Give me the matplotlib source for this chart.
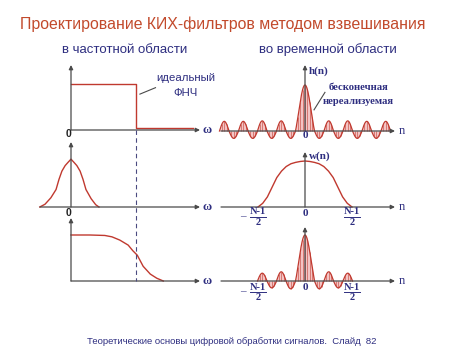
import numpy as np
import matplotlib
matplotlib.use("Agg")
import matplotlib.pyplot as plt

# ---------------- data ----------------
# frequency domain (omega in units of the cutoff frequency)
ideal_edges = [0.0, 1.0, 1.87]
ideal_levels = [1.0, 0.04]

win_spec_w = [-0.48, -0.40, -0.31, -0.23, -0.185, -0.14, -0.09, -0.046, 0.0,
              0.046, 0.09, 0.14, 0.185, 0.23, 0.31, 0.38, 0.43]
win_spec_v = [0.0, 0.06, 0.2, 0.38, 0.6, 0.78, 0.9, 0.97, 1.04,
              0.97, 0.9, 0.78, 0.6, 0.38, 0.18, 0.05, 0.0]

real_w = [0.0, 0.29, 0.52, 0.63, 0.75, 0.88, 0.95, 1.02, 1.11, 1.22, 1.32, 1.42]
real_v = [1.0, 1.0, 0.99, 0.96, 0.89, 0.78, 0.66, 0.56, 0.32, 0.15, 0.06, 0.0]

# time domain (n in units of the sinc zero spacing)
h_lobes = [-0.16, 0.22, -0.16, 0.22, -0.16, 0.21, -0.16, 0.21]      # ideal, infinite
hw_lobes = [-0.17, 0.20, -0.15, 0.17]                              # windowed
win_n = [0.0, 0.5, 1.0, 1.5, 2.0, 2.5, 3.0, 3.5, 4.0, 4.5, 5.0]
win_v = [1.0, 0.99, 0.97, 0.94, 0.88, 0.78, 0.64, 0.43, 0.22, 0.08, 0.0]

# ---------------- style ----------------
W, H = 474, 355
RED = "#c0392f"
PINK = "#f4c4c4"
NAVY = "#2e2e80"
AX = "#4a4a4a"
TITLE = "#c24a2c"
SANS = "Liberation Sans"
SERIF = "Liberation Serif"

fig = plt.figure(figsize=(W / 100, H / 100), dpi=100)
fig.patch.set_facecolor("white")


def panel(l, r, t, b, ox, oy, sx, sy):
    ax = fig.add_axes([l / W, 1 - b / H, (r - l) / W, (b - t) / H])
    ax.set_xlim((l - ox) / sx, (r - ox) / sx)
    ax.set_ylim((oy - b) / sy, (oy - t) / sy)
    ax.axis("off")
    ax.patch.set_alpha(0)
    return ax


def arrow(ax, x0, y0, x1, y1):
    ax.annotate("", xy=(x1, y1), xytext=(x0, y0),
                arrowprops=dict(arrowstyle="-|>", color=AX, lw=0.9,
                                mutation_scale=6, shrinkA=0, shrinkB=0))


def ftext(x, y, s, **kw):
    fig.text(x / W, 1 - y / H, s, **kw)


# ---- left column ----
SXL, SYL = 65.0, 46.0
OXL = 71
a1 = panel(30, 215, 55, 145, OXL, 130, SXL, SYL)
a2 = panel(30, 215, 135, 220, OXL, 207, SXL, SYL)
a3 = panel(30, 215, 212, 290, OXL, 281, SXL, SYL)

# panel 1 : ideal LPF
arrow(a1, 0, 0, 0, 65 / SYL)
arrow(a1, 0, 0, 129 / SXL, 0)
a1.plot([ideal_edges[0], ideal_edges[1], ideal_edges[1], ideal_edges[2]],
        [ideal_levels[0], ideal_levels[0], ideal_levels[1], ideal_levels[1]],
        color=RED, lw=1.0)
a1.plot([1.06, 1.30], [0.78, 0.92], color=AX, lw=0.8)

# panel 2 : window spectrum
arrow(a2, 0, 0, 0, 65 / SYL)
arrow(a2, -31 / SXL, 0, 129 / SXL, 0)
a2.plot(win_spec_w, win_spec_v, color=RED, lw=1.0)

# panel 3 : resulting response
arrow(a3, 0, 0, 0, 63 / SYL)
arrow(a3, 0, 0, 129 / SXL, 0)
a3.plot(real_w, real_v, color=RED, lw=1.0)

# overlay in pixel units for the dashed cutoff line and fraction bars
ov = fig.add_axes([0, 0, 1, 1])
ov.axis("off")
ov.set_xlim(0, W)
ov.set_ylim(H, 0)
ov.patch.set_alpha(0)
xc = OXL + ideal_edges[1] * SXL
ov.plot([xc, xc], [130, 281], color="#4a4a80", lw=0.8, ls=(0, (4, 3)))

# ---- right column ----
D = 9.5
SYR = 46.0
OXR = 305
a4 = panel(215, 410, 55, 145, OXR, 131, D, SYR)
a5 = panel(215, 410, 140, 225, OXR, 207, D, SYR)
a6 = panel(215, 410, 218, 300, OXR, 281, D, SYR)


def lobe_curve(lobes, x):
    y = np.zeros_like(x)
    ax_ = np.abs(x)
    main = ax_ < 1
    y[main] = np.sinc(x[main])
    for k, amp in enumerate(lobes, start=1):
        m = (ax_ >= k) & (ax_ <= k + 1)
        y[m] = amp * np.abs(np.sin(np.pi * ax_[m]))
    return y


def draw_seq(ax, lobes):
    ext = len(lobes) + 1
    xf = np.linspace(-ext, ext, 1500)
    yf = lobe_curve(lobes, xf)
    ax.fill_between(xf, 0, yf, color=PINK, lw=0)
    xs = np.arange(-ext * 4, ext * 4 + 1) / 4.0
    ys = lobe_curve(lobes, xs)
    ax.vlines(xs, 0, ys, color=RED, lw=0.45, alpha=0.85)
    ax.plot(xf, yf, color=RED, lw=0.9)


# panel 4 : ideal impulse response
draw_seq(a4, h_lobes)
arrow(a4, -84 / D, 0, 90 / D, 0)
arrow(a4, 0, 0, 0, 66 / SYR)
a4.plot([0.95, 2.1], [0.46, 0.84], color=AX, lw=0.8)

# panel 5 : window  ((N-1)/2 = 47 px)
arrow(a5, -84 / D, 0, 90 / D, 0)
arrow(a5, 0, 0, 0, 55 / SYR)
wx = np.array([-v for v in win_n[::-1]] + win_n[1:]) * (47 / 5) / D
wy = win_v[::-1] + win_v[1:]
a5.plot(wx, wy, color=RED, lw=1.0)

# panel 6 : windowed impulse response
draw_seq(a6, hw_lobes)
arrow(a6, -84 / D, 0, 90 / D, 0)
arrow(a6, 0, 0, 0, 54 / SYR)

# ---------------- texts ----------------
ftext(223, 24, "Проектирование КИХ-фильтров методом взвешивания", color=TITLE,
      family=SANS, fontsize=11.4, ha="center", va="center")
ftext(125, 50, "в частотной области", color=NAVY, family=SANS, fontsize=9.5,
      ha="center", va="center")
ftext(328, 50, "во временной области", color=NAVY, family=SANS, fontsize=9.5,
      ha="center", va="center")
ftext(232, 342, "Теоретические основы цифровой обработки сигналов.  Слайд  82",
      color=NAVY, family=SANS, fontsize=6.8, ha="center", va="center")

ftext(186, 78, "идеальный", color=NAVY, family=SANS, fontsize=8.2, ha="center", va="center")
ftext(186, 93, "ФНЧ", color=NAVY, family=SANS, fontsize=8.2, ha="center", va="center")

for y0 in (134, 213):
    ftext(68, y0, "0", color="#222222", family=SANS, fontsize=7.5,
          fontweight="bold", ha="center", va="center")
for y0 in (130, 207, 281):
    ftext(207, y0, "ω", color=NAVY, family=SERIF, fontsize=9,
          fontweight="bold", ha="center", va="center")
for y0 in (131, 207, 281):
    ftext(402, y0, "n", color=NAVY, family=SERIF, fontsize=9,
          ha="center", va="center")
for y0 in (136, 213, 288):
    ftext(305, y0, "0", color=NAVY, family=SERIF, fontsize=8,
          fontweight="bold", ha="center", va="center")

ftext(309, 71, "h(n)", color=NAVY, family=SERIF, fontsize=8, fontweight="bold",
      ha="left", va="center")
ftext(309, 156, "w(n)", color=NAVY, family=SERIF, fontsize=8, fontweight="bold",
      ha="left", va="center")
ftext(329, 87, "бесконечная", color=NAVY, family=SERIF, fontsize=7.7,
      fontweight="bold", ha="left", va="center")
ftext(323, 101, "нереализуемая", color=NAVY, family=SERIF, fontsize=7.7,
      fontweight="bold", ha="left", va="center")

for yc in (217, 292):
    for xc_, neg in ((258, True), (352, False)):
        ftext(xc_, yc - 5, "N-1", color=NAVY, family=SERIF, fontsize=7.5,
              fontweight="bold", ha="center", va="center")
        ftext(xc_, yc + 5, "2", color=NAVY, family=SERIF, fontsize=7.5,
              fontweight="bold", ha="center", va="center")
        ov.plot([xc_ - 8, xc_ + 8], [yc, yc], color=NAVY, lw=0.7)
        if neg:
            ftext(243, yc, "–", color=NAVY, family=SERIF, fontsize=8,
                  ha="center", va="center")

fig.savefig("out.png", dpi=100, facecolor="white")
